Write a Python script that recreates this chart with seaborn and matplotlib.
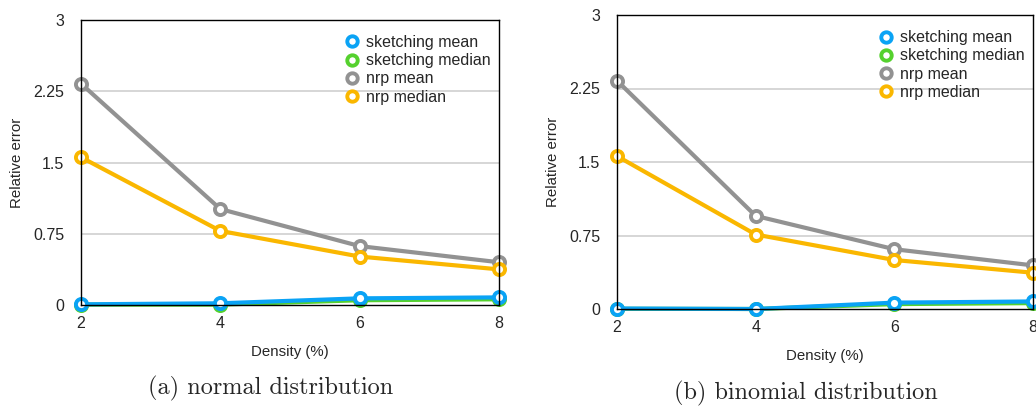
import matplotlib
matplotlib.use("Agg")
import matplotlib.pyplot as plt
from matplotlib.lines import Line2D
import seaborn as sns
import pandas as pd

density = [2, 4, 6, 8]
series_names = ["sketching mean", "sketching median", "nrp mean", "nrp median"]

normal_sketch_mean = [0.007, 0.018, 0.07, 0.08]
normal_sketch_median = [0.004, 0.004, 0.05, 0.06]
normal_nrp_mean = [2.33, 1.01, 0.62, 0.45]
normal_nrp_median = [1.555, 0.78, 0.51, 0.375]

binom_sketch_mean = [0.005, 0.0, 0.065, 0.077]
binom_sketch_median = [0.002, 0.0, 0.05, 0.06]
binom_nrp_mean = [2.33, 0.95, 0.61, 0.445]
binom_nrp_median = [1.56, 0.76, 0.50, 0.37]

yticks = [0, 0.75, 1.5, 2.25, 3]
ytick_labels = ["0", "0.75", "1.5", "2.25", "3"]
captions = ["(a) normal distribution", "(b) binomial distribution"]

colors = {
    "sketching mean": "#0AA3F5",
    "sketching median": "#55D12E",
    "nrp mean": "#929292",
    "nrp median": "#FAB700",
}
draw_order = ["sketching median", "sketching mean", "nrp mean", "nrp median"]

sns.set_style("white")
plt.rcParams["font.family"] = ["Liberation Sans", "DejaVu Sans"]

W, H = 1036, 407
fig = plt.figure(figsize=(W / 100, H / 100), dpi=100)


def make_df(vals):
    rows = []
    for name, v in zip(series_names, vals):
        for d, y in zip(density, v):
            rows.append({"Density": d, "value": y, "series": name})
    return pd.DataFrame(rows)


panels = [
    ((81, 20, 499, 305), [normal_sketch_mean, normal_sketch_median, normal_nrp_mean, normal_nrp_median], (271, 388)),
    ((617, 15, 1033, 309), [binom_sketch_mean, binom_sketch_median, binom_nrp_mean, binom_nrp_median], (806, 393)),
]

for idx, (box, vals, cap) in enumerate(panels):
    x0, y0, x1, y1 = box
    ax = fig.add_axes([x0 / W, 1 - y1 / H, (x1 - x0) / W, (y1 - y0) / H])
    df = make_df(vals)
    for name in draw_order:
        sub = df[df["series"] == name]
        sns.lineplot(data=sub, x="Density", y="value", ax=ax, color=colors[name],
                     linewidth=3.0, marker="o", markersize=8,
                     markerfacecolor="white", markeredgecolor=colors[name],
                     markeredgewidth=2.8, clip_on=False, legend=False)
    ax.set_xlim(2, 8)
    ax.set_ylim(0, 3)
    ax.set_xticks(density)
    ax.set_xticklabels([str(d) for d in density], fontsize=11.5)
    ax.set_yticks(yticks)
    ax.set_yticklabels(ytick_labels, fontsize=11.5)
    ax.tick_params(axis="both", length=0)
    ax.tick_params(axis="x", pad=8)
    ax.tick_params(axis="y", pad=12)
    for yv in [0.75, 1.5, 2.25]:
        ax.axhline(yv, color="#D0D0D0", linewidth=1.2, zorder=0)
    for s in ax.spines.values():
        s.set_visible(True)
        s.set_color("black")
        s.set_linewidth(1.0)
    ax.set_xlabel("Density (%)", fontsize=10.8, labelpad=10)
    ax.set_ylabel("Relative error", fontsize=10.8, labelpad=6.5)
    handles = [Line2D([], [], linestyle="none", marker="o", markersize=7.5,
                      markerfacecolor="white", markeredgecolor=colors[n],
                      markeredgewidth=2.8) for n in series_names]
    ax.legend(handles, series_names, loc="upper right", frameon=False,
              fontsize=11.5, handletextpad=0.35, labelspacing=0.2,
              borderaxespad=0.0, handlelength=1.0, bbox_to_anchor=(0.995, 0.97))
    fig.text(cap[0] / W, 1 - cap[1] / H, captions[idx], ha="center", va="center",
             fontsize=17.5, family=["cmr10", "DejaVu Serif"])

fig.savefig("out.png", dpi=100)
